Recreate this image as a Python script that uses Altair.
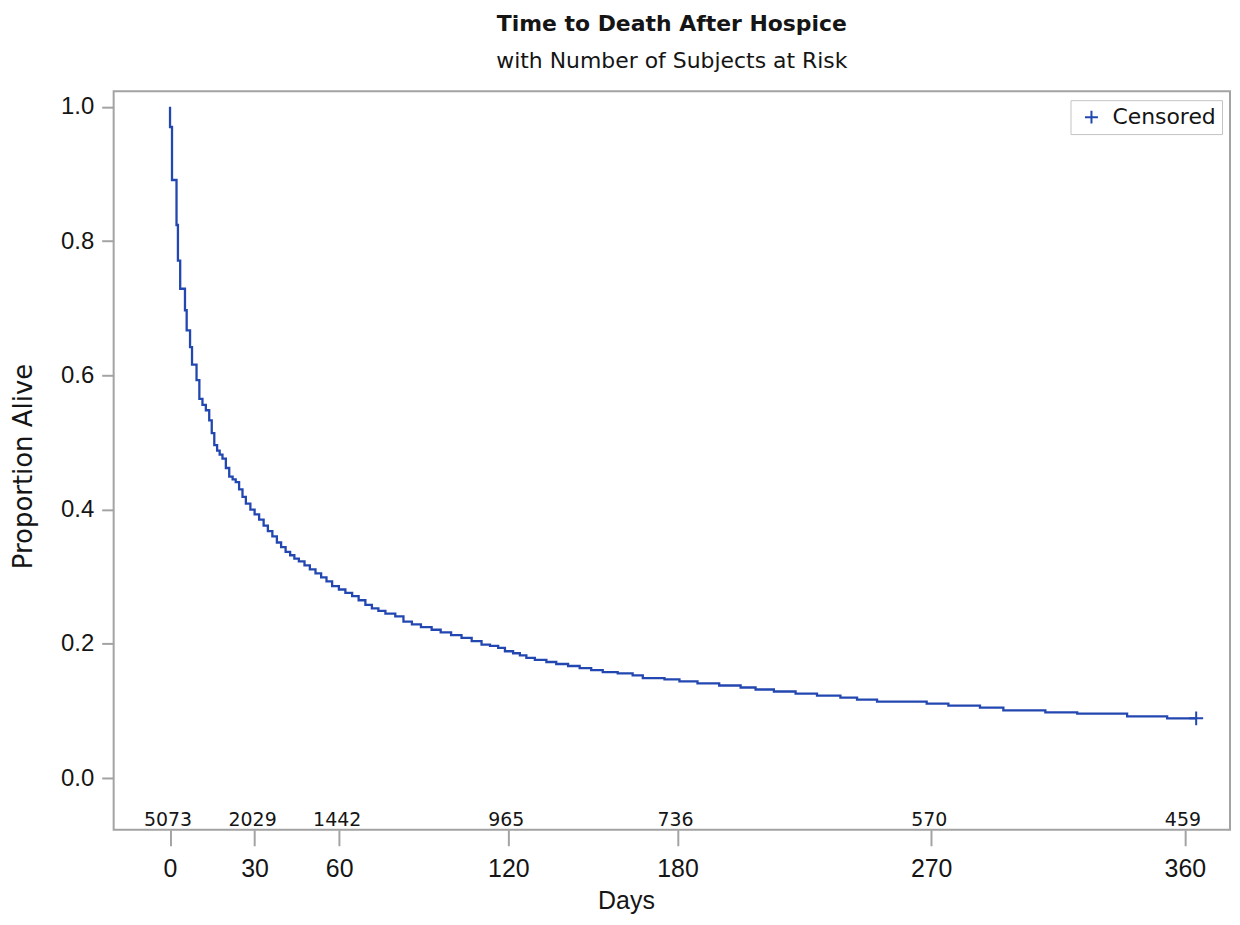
import altair as alt
import pandas as pd

# Kaplan-Meier step curve (step-after)
days = [0, 0, 0.7, 2.3, 2.8, 3.6, 5.3, 5.9, 7.1, 7.8, 9.4, 10.4, 11.5, 12.7, 13.9,
        14.8, 15.7, 16.7, 17.6, 18.6, 19.8, 21.0, 22.2, 23.3, 24.5, 25.7, 26.9,
        28.5, 30.0, 31.6, 33.2, 34.7, 36.3, 37.9, 39.4, 41.0, 42.6, 44.1, 45.7,
        47.7, 49.6, 51.6, 53.6, 55.5, 57.5, 59.9, 62.2, 64.6, 66.9, 69.3, 71.6,
        73.9, 76.4, 79.9, 82.8, 85.8, 89.0, 92.8, 96.0, 99.7, 103.4, 107.0, 110.5,
        113.5, 116.4, 118.8, 121.7, 124.1, 126.4, 129.4, 133.5, 137.0, 141.2,
        145.3, 149.4, 153.5, 158.8, 164.1, 167.7, 175.4, 180.7, 187.1, 194.8,
        202.4, 207.7, 214.2, 221.9, 229.5, 237.8, 243.7, 250.8, 268.4, 276.1,
        287.3, 295.6, 310.5, 321.8, 339.5, 353.7, 364.0]
surv = [1.000, 0.970, 0.891, 0.824, 0.771, 0.729, 0.697, 0.667, 0.642, 0.616, 0.593,
        0.565, 0.556, 0.548, 0.533, 0.514, 0.496, 0.488, 0.482, 0.476, 0.462, 0.449,
        0.445, 0.441, 0.430, 0.419, 0.409, 0.400, 0.393, 0.385, 0.376, 0.368, 0.360,
        0.351, 0.344, 0.337, 0.332, 0.327, 0.323, 0.317, 0.311, 0.305, 0.299, 0.293,
        0.286, 0.281, 0.276, 0.271, 0.265, 0.258, 0.253, 0.249, 0.245, 0.241, 0.233,
        0.229, 0.225, 0.221, 0.217, 0.213, 0.209, 0.204, 0.199, 0.197, 0.194, 0.189,
        0.186, 0.183, 0.179, 0.176, 0.173, 0.170, 0.167, 0.164, 0.161, 0.158, 0.156,
        0.153, 0.149, 0.147, 0.144, 0.141, 0.138, 0.135, 0.132, 0.129, 0.126, 0.123,
        0.120, 0.117, 0.114, 0.111, 0.108, 0.105, 0.101, 0.098, 0.096, 0.092, 0.089,
        0.089]

cens_days = [364.0]
cens_surv = [0.089]
cens_label = ["Censored"]

risk_days = [0, 30, 60, 120, 180, 270, 360]
risk_counts = [5073, 2029, 1442, 965, 736, 570, 459]

x_ticks = [0, 30, 60, 120, 180, 270, 360]
y_ticks = [0.0, 0.2, 0.4, 0.6, 0.8, 1.0]

BLUE = "#2347B0"
GRAY = "#A3A3A3"
TXT = "#151515"
PLUS = "M-1,0H1M0,-1V1"

curve = pd.DataFrame({"idx": list(range(len(days))), "day": days, "surv": surv})
cens = pd.DataFrame({"day": cens_days, "surv": cens_surv, "status": cens_label})
risk = pd.DataFrame({"day": risk_days, "label": [str(n) for n in risk_counts]})

xscale = alt.Scale(domain=[-20, 376], nice=False, zero=False)
yscale = alt.Scale(domain=[-0.077, 1.0233], nice=False, zero=False)

xaxis = alt.Axis(values=x_ticks, title="Days", grid=False, domain=False,
                 tickColor=GRAY, tickWidth=2, tickSize=16,
                 labelFont="Liberation Sans", labelFontSize=25, labelColor=TXT,
                 labelPadding=11, labelFlush=False,
                 titleFont="Liberation Sans", titleFontSize=25, titleFontWeight="normal",
                 titleColor=TXT, titleX=514, titleY=79, titleAlign="center",
                 titleBaseline="alphabetic")
yaxis = alt.Axis(values=y_ticks, format=".1f", title="Proportion Alive", grid=False,
                 domain=False, tickColor=GRAY, tickWidth=2, tickSize=12,
                 labelFont="Liberation Sans", labelFontSize=24, labelColor=TXT,
                 labelPadding=8, labelFlush=False,
                 titleFont="DejaVu Sans", titleFontSize=26, titleFontWeight="normal",
                 titleColor=TXT, titleAngle=270, titleX=-82, titleY=376,
                 titleAlign="center", titleBaseline="alphabetic")

line = alt.Chart(curve).mark_line(
    interpolate="step-after", color=BLUE, strokeWidth=2.3
).encode(
    x=alt.X("day:Q", scale=xscale, axis=xaxis),
    y=alt.Y("surv:Q", scale=yscale, axis=yaxis),
    order=alt.Order("idx:Q"),
)

points = alt.Chart(cens).mark_point(
    filled=False, color=BLUE, strokeWidth=2, size=196, opacity=1
).encode(
    x=alt.X("day:Q", scale=xscale),
    y=alt.Y("surv:Q", scale=yscale),
    shape=alt.Shape(
        "status:N",
        scale=alt.Scale(domain=cens_label, range=[PLUS]),
        legend=alt.Legend(
            title=None, orient="none", legendX=960, legendY=9, padding=6,
            strokeColor="#C4C4C4", fillColor="white",
            symbolStrokeColor=BLUE, symbolStrokeWidth=2, symbolSize=169,
            symbolOffset=4, labelOffset=10,
            labelFont="DejaVu Sans", labelFontSize=22, labelColor=TXT,
        ),
    ),
)

risk_text = alt.Chart(risk).mark_text(
    font="DejaVu Sans", fontSize=19, baseline="alphabetic", align="center",
    color=TXT, dx=-2
).encode(
    x=alt.X("day:Q", scale=xscale),
    y=alt.datum(-0.0715),
    text="label:N",
)

chart = alt.layer(line, points, risk_text).properties(
    width=1120,
    height=741,
    autosize=alt.AutoSizeParams(type="none"),
    padding={"left": 106, "top": 82, "right": 2, "bottom": 86},
    title=alt.TitleParams(
        text="Time to Death After Hospice",
        subtitle="with Number of Subjects at Risk",
        font="DejaVu Sans", fontSize=22, fontWeight="bold", color=TXT,
        subtitleFont="DejaVu Sans", subtitleFontSize=22,
        subtitleFontWeight="normal", subtitleColor=TXT,
        anchor="middle", offset=18, subtitlePadding=15,
    ),
).configure_view(stroke=GRAY, strokeWidth=2)

chart.save("out.html", embed_options={"renderer": "svg", "actions": False})
